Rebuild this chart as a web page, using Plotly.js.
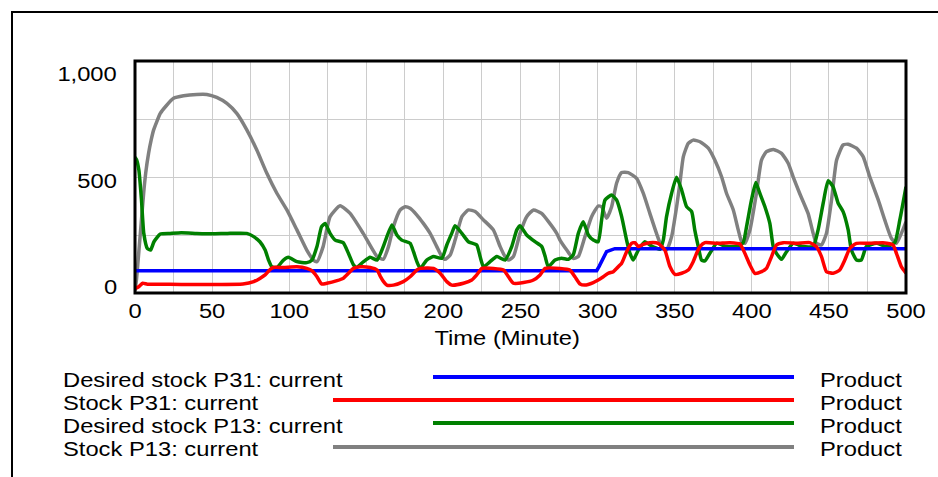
<!DOCTYPE html>
<html>
<head>
<meta charset="utf-8">
<script src="https://cdn.plot.ly/plotly-3.0.1.min.js"></script>
<style>html,body{margin:0;padding:0;background:#fff;}#chart{width:938px;height:477px;}</style>
</head>
<body>
<div id="chart"></div>
<script>
// ---- Data ----
const seriesNames = ["Desired stock P31: current", "Stock P31: current", "Desired stock P13: current", "Stock P13: current"];
const seriesUnits = ["Product", "Product", "Product", "Product"];
const xTitle = "Time (Minute)";
const yTickValues = [0, 500, 1000];
const yTickLabels = ["0", "500", "1,000"];

const timeDesiredP31 = [0, 299.4, 301, 302.6, 305.8, 311.2, 500];
const desiredStockP31 = [96, 96, 115, 135, 178, 191, 191];

const timeStockP31 = [0, 2.4, 5, 8, 15, 30, 50, 70, 77, 81,
  84.4, 87.7, 89.8, 96.3, 105, 111.4, 114.7, 118, 121, 124.4,
  131, 135, 138.4, 141.7, 146, 152.5, 157, 159, 161.2, 163.3,
  167.6, 174, 178.4, 182.8, 185, 193.6, 197.9, 202.2, 205.4, 213,
  218.4, 221.6, 225, 232.4, 239, 242.2, 245.4, 252, 258.4, 262.7,
  266, 275.6, 282, 285.3, 288.6, 291.8, 297.2, 300.4, 303.7, 306.9,
  310.2, 312.3, 315.6, 318.8, 322, 324.2, 326.4, 329.6, 333.9, 339.3,
  343.6, 346.9, 350.2, 354.5, 358.8, 362, 364.2, 366.4, 369.6, 377.2,
  385.8, 392.3, 395.5, 398.8, 402, 406.3, 409.5, 412.8, 416, 420.4,
  429, 437.6, 441.9, 445.2, 448.4, 452.7, 457, 460.3, 463.6, 467.9,
  476.5, 485, 491.6, 493.8, 497, 500];
const stockP31 = [18, 27, 42, 38, 38, 37, 37, 39, 49, 63,
  78, 102, 110, 110, 113, 106, 96, 70, 39, 42,
  53, 63, 85, 106, 113, 110, 99, 73, 49, 34,
  34, 49, 70, 99, 106, 106, 85, 49, 34, 42,
  56, 78, 106, 106, 99, 70, 42, 45, 56, 78,
  106, 106, 99, 70, 39, 34, 45, 56, 70, 85,
  92, 106, 128, 178, 214, 217, 200, 210, 217, 214,
  185, 114, 80, 85, 99, 135, 171, 200, 217, 214,
  217, 211, 171, 121, 85, 92, 106, 157, 207, 217,
  214, 217, 200, 157, 92, 85, 99, 142, 193, 214,
  214, 217, 207, 171, 113, 85];

const timeDesiredP13 = [0, 1, 2.5, 4.2, 5.7, 8, 10.1, 12.3, 16.4, 22.8,
  30, 40, 50, 60, 72.5, 77, 81, 84.4, 86.6, 88.7,
  92, 96.3, 99.5, 105, 111.4, 114.7, 118, 121, 123.3, 126.5,
  129.8, 135, 138.4, 141.7, 143.8, 148.2, 152.5, 157, 161, 166.6,
  169.8, 173, 178.4, 180.6, 182.8, 185, 189.2, 193.6, 199, 202.2,
  205.4, 207.6, 212, 216.2, 221.6, 223.8, 226, 230.3, 234.6, 240,
  244.3, 247.6, 249.7, 254, 259.4, 263.8, 266, 268, 272.4, 276.7,
  281, 284.2, 287.5, 290.7, 294, 297.2, 300.4, 302.6, 304.8, 309.1,
  312.3, 315.6, 318.8, 321, 323.1, 326.4, 330.7, 333.9, 338.2, 340.4,
  342.6, 344.7, 348, 351.2, 354.5, 357.7, 361, 363, 365.3, 367.4,
  369.6, 372.8, 377.2, 383.6, 390.1, 394.4, 396.6, 399.8, 402.6, 405.2,
  408.5, 411.7, 413.9, 416, 419.3, 422.5, 426.8, 433.3, 439.8, 443,
  446.3, 449.5, 452.7, 456, 459.2, 462.5, 464.6, 467.9, 471, 474.3,
  480.8, 487.3, 492.7, 496, 500];
const desiredStockP13 = [585, 575, 530, 401, 257, 192, 185, 221, 254, 257,
  260, 257, 255, 257, 257, 243, 221, 185, 142, 113,
  110, 142, 154, 135, 131, 142, 200, 286, 300, 257,
  228, 217, 171, 121, 110, 135, 154, 142, 200, 293,
  250, 228, 214, 178, 135, 106, 142, 157, 150, 207,
  257, 290, 257, 221, 207, 157, 113, 135, 157, 142,
  200, 272, 290, 250, 221, 200, 157, 113, 142, 150,
  145, 164, 257, 307, 250, 228, 221, 315, 401, 422,
  401, 329, 228, 171, 142, 185, 221, 207, 193, 188,
  228, 329, 430, 499, 444, 372, 351, 272, 200, 142,
  138, 171, 214, 200, 200, 217, 286, 401, 476, 430,
  372, 300, 200, 171, 145, 178, 214, 200, 200, 272,
  387, 484, 458, 387, 351, 272, 185, 142, 142, 200,
  214, 200, 217, 315, 458];

const timeStockP13 = [0, 1, 2.5, 4, 5.6, 7, 8.8, 10.5, 12.1, 16.4,
  20, 25, 31.5, 40, 46.6, 53, 59.6, 66, 72.5, 79,
  85.5, 92, 98.5, 105, 111.4, 115.7, 118, 122, 126.5, 133,
  139.5, 148, 157, 161, 164.4, 167.6, 172, 175.2, 178.4, 182.8,
  187, 191.4, 195.7, 199, 201, 204.4, 207.6, 212, 216.2, 220.6,
  226, 232.4, 236.8, 240, 242.2, 245.4, 249.7, 254, 258.4, 263.7,
  269, 273.5, 275.6, 280, 284.2, 287.5, 291.8, 296.1, 300.4, 302.6,
  305.8, 309.1, 312.3, 315.6, 319.9, 325.3, 329.6, 333.9, 338.2, 341.5,
  344.7, 348, 351.2, 353.5, 355.6, 358.8, 362, 366.4, 371.8, 376,
  380.4, 383.6, 388, 391.2, 393.4, 395.5, 398.8, 403, 406.3, 409.5,
  414, 419.3, 423.6, 426.8, 431, 436.5, 439.8, 441.9, 445.2, 448.4,
  451.7, 455, 459.2, 462.5, 467.9, 472.2, 476.5, 482, 486.2, 490.5,
  493.8, 497, 500];
const stockP13 = [10, 60, 180, 300, 430, 520, 602, 660, 703, 774,
  805, 839, 850, 856, 856, 843, 817, 774, 703, 616,
  516, 430, 358, 272, 185, 142, 135, 200, 329, 376,
  343, 257, 157, 145, 200, 286, 358, 372, 365, 336,
  300, 257, 200, 157, 145, 164, 228, 329, 358, 351,
  315, 272, 200, 157, 142, 157, 257, 329, 358, 343,
  300, 257, 228, 185, 149, 157, 243, 329, 375, 372,
  322, 372, 473, 519, 519, 494, 430, 343, 257, 200,
  185, 243, 370, 480, 588, 645, 659, 652, 624, 573,
  501, 430, 358, 272, 221, 214, 272, 430, 573, 609,
  619, 602, 559, 501, 430, 343, 257, 214, 207, 257,
  401, 573, 638, 641, 624, 588, 501, 401, 315, 236,
  214, 257, 307];

const seriesColors = ["#0000ff", "#ff0000", "#008000", "#808080"];

// ---- Build chart ----
const FONT = "Liberation Sans, Arial, Helvetica, sans-serif";
const FS = 20.3;          // font size; glyphs are drawn a little wider, like the reference
const STRETCH = 1.17;
const xs = [timeDesiredP31, timeStockP31, timeDesiredP13, timeStockP13];
const ys = [desiredStockP31, stockP31, desiredStockP13, stockP13];
const drawOrder = [3, 2, 0, 1];
const traces = drawOrder.map(i => ({
  x: xs[i], y: ys[i], type: "scatter", mode: "lines", name: seriesNames[i],
  line: i === 0 ? {color: seriesColors[i], width: 3.5}
               : {color: seriesColors[i], width: 3.5, shape: "spline", smoothing: 0.5},
  hoverinfo: "skip"
}));

// page geometry (pixels) used to place the custom legend
const W = 938, H = 477, mL = 135, mR = 32, mT = 61, mB = 184;
const pw = W - mL - mR, ph = H - mT - mB;
const px = v => (v - mL) / pw;
const py = v => (H - mB - v) / ph;

const legendRowsY = [380, 403, 426, 449];
const legendLineY = [377, 400, 423, 447];
const legendLineStart = [433, 333, 433, 333];
const legendLineEnd = 794;

const txtFont = {family: FONT, size: FS, color: "#000"};
const annotations = [];
const shapes = [];
yTickValues.forEach((v, i) => {
  const shift = [6, -4, -13][i];
  annotations.push({xref: "paper", yref: "y", x: px(118), y: v, xanchor: "right", yanchor: "middle", align: "right",
    text: yTickLabels[i], showarrow: false, yshift: shift, borderpad: 0, font: txtFont});
});
annotations.push({xref: "paper", yref: "paper", x: px(507), y: py(338), xanchor: "center", yanchor: "middle", align: "center",
  text: xTitle, showarrow: false, borderpad: 0, font: txtFont});
seriesNames.forEach((n, i) => {
  annotations.push({xref: "paper", yref: "paper", x: px(62), y: py(legendRowsY[i]), xanchor: "left", yanchor: "middle", align: "left",
    text: n, showarrow: false, borderpad: 0, font: txtFont});
  annotations.push({xref: "paper", yref: "paper", x: px(819), y: py(legendRowsY[i]), xanchor: "left", yanchor: "middle", align: "left",
    text: seriesUnits[i], showarrow: false, borderpad: 0, font: txtFont});
  shapes.push({type: "line", xref: "paper", yref: "paper", x0: px(legendLineStart[i]), x1: px(legendLineEnd),
    y0: py(legendLineY[i]), y1: py(legendLineY[i]), line: {color: seriesColors[i], width: 4}});
});
// plot frame
shapes.push({type: "rect", xref: "paper", yref: "paper", x0: 0, x1: 1, y0: 0, y1: 1, line: {color: "#000", width: 3}, layer: "above"});
// outer border (top and left edges visible)
shapes.push({type: "path", xref: "paper", yref: "paper",
  path: `M ${px(12)},${py(490)} L ${px(12)},${py(12)} L ${px(950)},${py(12)}`, line: {color: "#000", width: 2}});

const layout = {
  width: W, height: H,
  margin: {l: mL, r: mR, t: mT, b: mB, pad: 0},
  paper_bgcolor: "#fff", plot_bgcolor: "#fff",
  showlegend: false,
  font: txtFont,
  xaxis: {range: [0, 500], tick0: 0, dtick: 50, showgrid: true, gridcolor: "#cccccc", gridwidth: 1,
    minor: {dtick: 25, showgrid: true, gridcolor: "#cccccc", gridwidth: 1},
    zeroline: false, showline: false, ticks: "", tickfont: txtFont,
    ticklabelstandoff: 4, fixedrange: true},
  yaxis: {range: [0, 1000], tick0: 0, dtick: 250, showgrid: true, gridcolor: "#cccccc", gridwidth: 1,
    zeroline: false, showline: false, ticks: "", showticklabels: false, fixedrange: true},
  annotations: annotations,
  shapes: shapes
};

function widenText(gd) {
  gd.querySelectorAll("text.annotation-text, g.xtick text").forEach(t => {
    const w = t.getComputedTextLength();
    if (w > 0) {
      t.setAttribute("textLength", (w * STRETCH).toFixed(2));
      t.setAttribute("lengthAdjust", "spacingAndGlyphs");
    }
  });
}
const gd = document.getElementById("chart");
Plotly.newPlot(gd, traces, layout, {displayModeBar: false, staticPlot: true}).then(() => widenText(gd));
</script>
</body>
</html>
